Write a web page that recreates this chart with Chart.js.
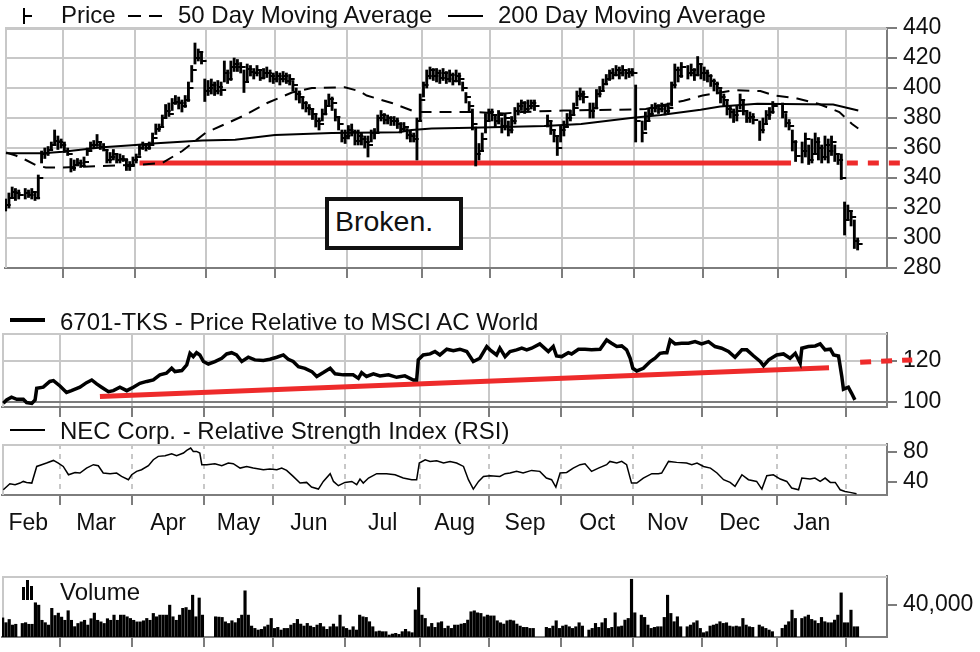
<!DOCTYPE html>
<html>
<head>
<meta charset="utf-8">
<title>NEC Corp. 6701-TKS</title>
<script src="https://cdn.jsdelivr.net/npm/chart.js@4.4.1/dist/chart.umd.min.js"></script>
<style>
  html, body { margin:0; padding:0; background:#fff; }
  #wrap { position:relative; width:980px; height:652px; overflow:hidden; font-family:'Liberation Sans', Arial, sans-serif; color:#111; }
  #wrap canvas { position:absolute; left:0; }
  .lg { position:absolute; font-size:24px; line-height:24px; white-space:nowrap; }
  .ic { position:absolute; background:#000; }
  #box { position:absolute; left:325px; top:196.5px; width:138px; height:53px; box-sizing:border-box; border:4px solid #111; background:#fff; }
  #boxText { position:absolute; left:335px; top:207px; font-size:28.5px; line-height:28.5px; white-space:nowrap; }
</style>
</head>
<body>
<div id="wrap">
  <canvas id="cPrice" width="980" height="290" style="top:0px"></canvas>
  <canvas id="cRel" width="980" height="140" style="top:300px"></canvas>
  <canvas id="cRsi" width="980" height="135" style="top:415px"></canvas>
  <canvas id="cVol" width="980" height="124" style="top:548px"></canvas>

  <div class="ic" style="left:23px;top:8px;width:2px;height:16px"></div>
  <div class="ic" style="left:23px;top:15px;width:9px;height:2px"></div>
  <div class="lg" style="left:61px;top:3px">Price</div>
  <div class="ic" style="left:128px;top:15px;width:13px;height:2px"></div>
  <div class="ic" style="left:149px;top:15px;width:13px;height:2px"></div>
  <div class="lg" style="left:178px;top:3px">50 Day Moving Average</div>
  <div class="ic" style="left:448px;top:15px;width:35px;height:2px"></div>
  <div class="lg" style="left:498px;top:3px">200 Day Moving Average</div>

  <div class="ic" style="left:10px;top:318px;width:35px;height:4px"></div>
  <div class="lg" style="left:60px;top:310px">6701-TKS - Price Relative to MSCI AC World</div>

  <div class="ic" style="left:10px;top:429px;width:35px;height:1.5px"></div>
  <div class="lg" style="left:60px;top:419px">NEC Corp. - Relative Strength Index (RSI)</div>

  <div class="ic" style="left:22px;top:587px;width:3px;height:13px"></div>
  <div class="ic" style="left:26px;top:580px;width:3px;height:20px"></div>
  <div class="ic" style="left:30px;top:586px;width:3px;height:14px"></div>
  <div class="lg" style="left:60px;top:580px">Volume</div>

  <div id="box"></div>
  <div id="boxText">Broken.</div>
</div>
<script>
// ---------------- DATA ----------------
// x values are weekday slots (slot 0 = first weekday of February)
const startSlot = 2;
const closes = [
 322,327,331,330,329,null,330,329,331,327,
 340,356,357,359,362,365,364,362,358,356,
 347,349,350,348,351,358,362,362,364,361,
 359,352,354,356,352,353,352,348,348,352,
 354,360,362,360,362,367,373,374,380,385,
 383,390,391,390,388,392,400,412,420,424,
 418,398,400,402,398,401,399,410,406,414,
 416,414,414,404,413,411,410,412,407,410,
 410,408,406,408,406,408,405,406,402,396,
 394,390,387,386,383,378,376,383,388,393,
 390,381,376,367,368,372,371,365,368,366,
 364,362,370,370,380,382,379,380,378,378,
 376,373,374,369,368,366,378,392,402,408,
 412,408,410,407,410,406,409,405,408,406,
 400,394,388,376,356,358,366,378,384,382,
 378,382,375,380,372,378,385,388,390,386,
 388,390,388,null,null,null,378,372,368,360,
 372,374,380,382,387,395,396,394,null,385,
 387,396,398,403,406,410,409,412,410,412,
 410,411,410,378,null,370,378,383,387,388,
 386,388,385,387,402,412,408,414,null,410,
 412,409,416,410,410,408,405,403,400,394,
 392,386,384,382,385,392,385,380,381,379,
 null,372,376,382,384,388,null,null,384,377,
 375,364,355,null,358,366,352,356,364,360,
 354,362,358,364,356,352,340,312,318,314,
 298,296
];
const highs = [
 326,330,334,333,332,null,333,332,333,331,
 342,358,360,361,364,372,368,366,364,360,
 353,352,353,352,354,360,364,365,369,364,
 363,358,357,359,356,356,355,353,351,354,
 356,362,364,363,364,370,376,376,382,389,
 390,393,395,394,392,395,404,415,430,426,
 424,406,405,406,404,405,404,418,412,418,
 420,419,417,412,416,415,413,415,412,413,
 414,412,410,411,410,411,410,409,405,400,
 398,394,391,389,386,382,380,386,392,396,
 394,386,380,372,372,375,376,372,372,370,
 368,368,372,373,382,385,383,382,381,381,
 380,377,377,373,372,370,380,396,404,412,
 414,413,413,412,413,411,412,410,412,410,
 404,397,391,386,374,363,370,383,386,386,
 382,385,380,383,378,381,387,390,392,391,
 392,392,392,null,null,null,382,378,372,368,
 375,378,383,385,390,398,400,398,null,390,
 390,399,401,406,409,412,413,415,414,415,
 412,413,413,402,null,378,384,386,389,390,
 389,390,389,390,404,416,414,417,null,415,
 416,413,421,416,414,412,409,406,404,399,
 396,392,388,386,388,396,392,384,384,383,
 null,378,380,385,387,391,null,null,390,383,
 379,372,365,null,364,370,362,366,370,367,
 362,368,366,368,362,356,356,324,322,318,
 312,300
];
const lows = [
 318,320,327,325,326,null,326,327,326,325,
 326,350,353,355,359,362,359,360,357,355,
 344,345,348,347,348,355,359,360,361,359,
 358,350,350,352,350,350,351,345,345,348,
 350,355,359,358,359,363,369,371,374,380,
 381,385,389,386,384,387,391,404,416,418,
 416,391,395,396,395,396,395,404,403,405,
 411,411,410,397,404,408,406,408,405,406,
 407,404,403,404,402,404,403,402,398,392,
 390,386,384,382,379,374,372,378,382,388,
 385,378,372,364,363,366,368,362,362,362,
 360,354,364,366,370,378,376,376,375,375,
 373,370,371,366,364,364,352,378,394,400,
 406,405,404,403,405,403,404,402,404,402,
 398,390,384,372,348,352,358,370,378,378,
 374,376,370,372,368,370,376,382,385,383,
 384,386,385,null,null,null,374,369,364,355,
 364,368,374,378,382,388,392,390,null,380,
 380,386,394,398,402,405,406,408,406,408,
 406,407,408,364,null,364,372,378,382,384,
 383,384,382,383,388,400,404,407,null,406,
 408,405,408,406,405,404,401,398,396,390,
 388,382,380,377,378,386,382,377,377,376,
 null,365,370,376,379,383,null,null,380,374,
 372,358,351,null,350,354,349,350,356,352,
 350,352,350,355,351,349,339,302,312,308,
 293,292
];
const volumes = [
 24000,18000,22000,15000,16000,null,17000,18000,16000,16000,
 43000,40000,21000,18000,15000,36000,27000,30000,25000,21000,
 33000,21000,13000,17000,19000,21000,15000,23000,30000,21000,
 19000,17000,23000,21000,27500,21000,27500,27500,25400,23300,
 21000,19000,19000,20400,23300,21000,29600,25400,27500,27500,
 27500,40000,25400,21000,27500,36000,37000,33750,52500,25400,
 49000,27500,null,null,null,25400,25000,24600,19000,17000,
 20400,18000,23300,27500,58000,27500,13750,10800,8750,9600,
 12900,15000,23300,10800,12100,8750,10800,10800,15000,17100,
 22100,16250,13750,17100,13750,12100,15000,17100,12900,9600,
 12900,16250,12900,27500,12900,10800,8750,12900,8750,27500,
 25400,24600,19200,12900,6700,7500,6700,6700,2500,3750,
 4600,3300,6700,9600,6700,5400,34000,62000,27500,23300,
 12900,17100,12100,17900,19200,10800,13750,10800,15000,15000,
 16250,17100,21250,31700,32900,30400,29600,25400,27500,26500,
 26500,20400,17900,16250,20400,21250,20400,16250,13750,12100,
 12100,10800,10800,null,null,null,12100,10800,13750,20400,
 10800,13750,15000,12900,10800,12900,17900,13750,null,8750,
 10800,17100,12100,17900,23300,10800,12100,30400,12900,13750,
 21250,23300,72500,30400,null,27500,24600,15000,10800,12100,
 12900,12900,24600,52500,29600,19200,25400,12900,null,12900,
 15000,17900,20400,10800,5400,6700,13750,15000,16250,19200,
 17100,17900,13750,12900,13750,12900,23300,15000,12900,12100,
 null,15000,12900,10800,8750,6700,null,null,10800,15000,
 19200,33750,23300,null,23300,25400,27500,22100,20400,17100,
 24600,19200,17900,17900,21250,27500,55400,17900,17900,33750,
 12900,12900
];
const ma50X = [2.1,5.1,8.2,11.3,14.3,19.5,25.6,31.7,37.8,43.9,50,56.1,63.2,69.3,75.4,82.1,89.7,95.8,105.9,110.2,112.6,120.3,126.4,128.8,144.7,154.8,160,172.8,189.9,198.1,209.7,215.5,225,233.2,237.5,244.5,250.9,257.4,261.3,263.2];
const ma50Y = [357,355,352,348.5,347,347,347.5,348,348.5,349,350,358,370,376,382,390,397,400,400.5,398,395,390,385,384,384,383,384,385,385.5,386,391.5,395,398.5,398,395,393,389.5,384,376,373];
const ma200X = [2.1,13.4,19.5,31.7,41.8,47,62.2,72.3,84.5,101.9,122.4,126.4,132.5,144.7,167,178.3,193.5,202.7,214.9,220.9,232.3,255.5,263.2];
const ma200Y = [356.5,356.5,357.5,360.5,362,363,365,365.5,368.7,370,370.5,372,373,373.5,374.7,376,380,382,385.5,387.6,389.5,389,385];
const supportX = [43, 242.6], supportY = [350, 350];
const supportDashX = [259.7, 276.3], supportDashY = [350, 350];
const relX = [2.2,3.2,4.7,6.3,8.3,9.3,10.9,11.9,12.4,14.4,16.4,17.5,19.5,21.5,23,25.6,27.6,29.2,30.7,32.2,34.3,35.8,37.8,39.9,41.9,43.9,46,48,50,52,53.6,54.6,56.7,58.2,59.2,60.2,61.2,62.2,63.3,64.8,66.8,68.9,70.4,71.9,73.4,75,77,79,81.6,83.6,85.7,87.7,89.2,90.7,92.3,94.3,96.4,97.9,99.9,102,103.5,106,109,110.6,111.6,113.1,115.2,117.2,119.8,122.3,124.8,127.4,128.4,128.9,130.4,132.5,134,135.5,137.6,139.6,141.6,143.7,145.7,147.7,149.8,150.8,152.8,153.8,155.4,156.9,158.9,160.5,162,163.5,166,168.6,170.1,171.1,172.7,174.7,175.7,177.8,179.8,181.8,184.4,186.4,187.9,189.5,191,192.5,193.6,194.4,195.6,197.6,199.7,201.2,202.7,203.8,204.8,205.8,207.3,209.3,211.4,213.4,215.4,217.5,219.5,221.5,223.6,225.6,227.7,229.2,231.3,233.3,234.3,235.9,238.3,240.4,242.4,244,245.5,246,248,250.1,251.6,253.1,254.7,255.7,257.2,258.2,258.7,260.2,261.2,262.2];
const relY = [99.4,101,102.3,101.3,101.3,99.7,99.3,101,106.7,107.2,110,110.4,107.8,104.6,105.5,107.2,109.4,110.7,108.8,107.2,105,105.5,107.2,105.5,107.2,109.1,110,110.7,113.2,114,116.4,114.8,115.3,118,123.7,122.1,124,122.9,119.7,118.5,119.7,121.3,123.4,124,122.9,119.7,121.8,120.5,120.2,120.8,121.8,122.9,120.8,119.7,117.2,116.4,114.8,112.4,114.3,116.4,113.7,113.2,113.2,111.5,114.3,112.4,113.7,112.7,113.2,112,112.7,110.7,110.7,120.5,122.9,123.4,124.6,122.9,125.7,125,125.7,124.6,119.7,121.3,127,125.4,122.9,126.2,122.1,124.6,125.4,126.2,125.4,126.2,128.3,124.6,127,122.4,122.1,124,123.4,125.7,125.7,125.4,125.7,130.2,128.6,127,127.3,125.4,121.3,116.4,115.1,116.4,119.7,121.3,123.7,124,124,130.2,128.3,128.6,128.6,129.4,128.3,129.4,127,126.2,124.6,121.8,125.4,125.4,122.4,119.7,117.6,120.5,122.9,123.4,121.3,123.7,118.9,126.2,127,127.3,128.3,125.4,125.7,122.9,122.4,112.4,106.2,107.2,104.2,101];
const relTrendX = [31.7, 254.3], relTrendY = [102.6, 116.7];
const relDashX = [263.8, 279.7], relDashY = [119.3, 120.5];
const rsiX = [2.2,4.2,5.8,7.3,8.3,9.3,10.9,12.4,13.9,15.4,17.5,19,20.5,22.1,24.1,25.6,27.6,29.7,31.2,32.7,34.8,36.8,38.3,40.4,41.4,42.9,44.4,46.5,48,49.5,51.6,53.6,55.1,57.2,58.2,59.4,60.2,61.2,62.2,62.8,64.3,66.8,68.9,70.9,72.4,74.5,76.5,78.5,81.6,83.6,85.7,87.2,88.7,90.7,92.8,94.8,96.3,98.4,99.9,102,103,104.5,106.5,108.6,110.1,111.1,112.1,113.7,116.2,119.2,121.8,124.3,126.9,128.4,129.2,131,132.5,134.5,136.6,138.6,140.6,142.7,144.2,145.7,147.3,148.8,150.8,153.8,155.4,156.9,158.9,160.9,163.5,166,168,169.6,170.9,172.2,174.2,176.2,178.3,179.8,181.8,183.9,186.4,187.4,189.5,191,192.5,194,195.6,197.6,200.2,202.2,203.2,205.3,207.8,210.8,212.4,214,216,218.1,220.1,222.1,224.1,225.6,227.7,229.7,232.2,233.8,235.3,237.3,239.4,241.4,242.9,245,246,248.5,250,251.6,253.1,254.7,256.2,257.7,259.2,260.7,262.7];
const rsiY = [29.3,37.3,36,38.2,40.4,39.1,38.2,60.4,62.7,64.9,68.4,64.9,60.4,49.3,52.4,51.6,58.2,62.7,61.3,51.6,50.7,51.6,47.1,42.7,49.3,53.8,56,61.3,69.3,73.8,74.7,77.3,74.7,78.2,81.8,84.9,80.4,80.4,78.2,62.7,62.7,64,61.3,64.9,64,58.2,60.4,58.2,56,56.9,56,58.2,55.1,47.1,38.2,39.1,32.9,30.2,40.4,50.7,40.4,34.7,39.1,40.4,36,43.6,38.2,44.9,50.7,50.7,49.3,44.9,42.7,42.7,64.9,69.3,67.1,68,64.9,67.1,64.9,60.4,42.7,30.2,40.4,47.1,48,47.1,50.7,51.6,53.8,51.6,55.1,53.8,44.9,42.7,32.9,51.6,52.4,58.2,62.7,64,53.8,58.2,62.7,67.1,64.9,67.1,62.7,38.2,38.2,44.9,50.7,50.7,51.6,67.1,65.8,64.9,62.7,64.9,60.4,58.2,51.6,42.7,39.1,33.8,49.3,42.7,40.4,30.2,48,49.3,43.6,40.4,31.6,29.3,44.9,43.6,44.9,40.4,44.9,39.1,39.1,29.3,27.1,25.8,24];
const monthTicks = [19.5,41.5,63.5,84.5,106.5,129.5,150.5,172.5,194.5,215.5,238.5,259.5];
const monthLabelPos = [9.8,30.5,52.5,74,95.5,118,140,161.5,183.5,205,227,249];
const monthLabels = ['Feb','Mar','Apr','May','Jun','Jul','Aug','Sep','Oct','Nov','Dec','Jan'];
const priceTicks = [280,300,320,340,360,380,400,420,440];
const priceTickLabels = ['280','300','320','340','360','380','400','420','440'];
const relTicks = [100,120], relTickLabels = ['100','120'];
const rsiTicks = [40,80], rsiTickLabels = ['40','80'];
const volTicks = [40000], volTickLabels = ['40,000'];

// ---------------- BUILD ----------------
const hlcBars = [], closeMarks = [], volBars = [];
closes.forEach((c, i) => {
  const s = startSlot + i;
  if (c !== null) { hlcBars.push({x: s, y: [lows[i], highs[i]]}); closeMarks.push({x: s, y: c}); }
});
volumes.forEach((v, i) => { if (v !== null) volBars.push({x: startSlot + i, y: v}); });
const pts = (xs, ys) => xs.map((x, i) => ({x: x, y: ys[i]}));

Chart.defaults.font.family = "'Liberation Sans', Arial, sans-serif";
Chart.defaults.font.size = 23;
Chart.defaults.color = '#111';

const GRID = '#c8c8c8', AXIS = '#7d7d7d';
const X_MIN = 1.8, X_MAX = 272;

const tickImg = (() => {
  const c = document.createElement('canvas'); c.width = 12; c.height = 2;
  const g = c.getContext('2d'); g.fillStyle = '#000'; g.fillRect(6, 0, 5, 2); return c;
})();

const frame = {
  id: 'frame',
  beforeDatasetsDraw(chart) {
    const {ctx, chartArea: a} = chart;
    ctx.save(); ctx.strokeStyle = GRID; ctx.lineWidth = 2;
    ctx.beginPath(); ctx.moveTo(a.left + 1, a.bottom); ctx.lineTo(a.left + 1, a.top + 1); ctx.lineTo(a.right, a.top + 1); ctx.stroke();
    ctx.restore();
  }
};

function xAxis(onArea, dashed) {
  const border = {display: true, color: AXIS, width: 2};
  if (dashed) border.dash = [5, 5];
  return {
    type: 'linear', position: 'bottom', min: X_MIN, max: X_MAX, offset: false, weight: 0,
    afterBuildTicks: ax => { ax.ticks = monthTicks.map(v => ({value: v})); },
    afterFit: ax => { ax.height = 10; },
    ticks: {display: false, autoSkip: false},
    grid: {offset: false, color: GRID, lineWidth: 2, drawOnChartArea: onArea, drawTicks: true, tickLength: 10, tickColor: AXIS, tickWidth: 2},
    border: border
  };
}
function yAxis(min, max, ticks, labels, onArea, colorFn) {
  return {
    type: 'linear', position: 'right', min: min, max: max,
    afterBuildTicks: ax => { ax.ticks = ticks.map(v => ({value: v})); },
    afterFit: ax => { ax.width = 93; },
    ticks: {autoSkip: false, padding: 6, color: '#111', callback: (v, i) => labels[i]},
    grid: {color: colorFn || GRID, lineWidth: 2, drawOnChartArea: onArea, drawTicks: true, tickLength: 10, tickColor: AXIS, tickWidth: 2},
    border: {display: true, color: AXIS, width: 2}
  };
}
const common = (padding) => ({
  responsive: false, animation: false, events: [],
  layout: {padding: padding},
  plugins: {legend: {display: false}, tooltip: {enabled: false}}
});

// Price panel
new Chart(document.getElementById('cPrice'), {
  type: 'bar',
  data: {datasets: [
    {type: 'bar', data: hlcBars, backgroundColor: '#000', borderWidth: 0, barThickness: 2.2},
    {type: 'scatter', data: closeMarks, pointStyle: tickImg, pointRadius: 1, showLine: false},
    {type: 'line', data: pts(ma50X, ma50Y), borderColor: '#000', borderWidth: 2, borderDash: [12, 8], pointRadius: 0, tension: 0},
    {type: 'line', data: pts(ma200X, ma200Y), borderColor: '#000', borderWidth: 2, pointRadius: 0, tension: 0},
    {type: 'line', data: pts(supportX, supportY), borderColor: '#ee2b2b', borderWidth: 5, pointRadius: 0},
    {type: 'line', data: pts(supportDashX, supportDashY), borderColor: '#ee2b2b', borderWidth: 5, borderDash: [11, 10], pointRadius: 0, clip: {left: 0, top: 0, right: 20, bottom: 0}}
  ]},
  options: Object.assign(common({top: 28, left: 2, right: 0, bottom: 12}), {
    scales: {x: xAxis(true, false), y: yAxis(280, 440, priceTicks, priceTickLabels, true)}
  }),
  plugins: [frame]
});

// Relative panel
new Chart(document.getElementById('cRel'), {
  type: 'line',
  data: {datasets: [
    {data: pts(relX, relY), borderColor: '#000', borderWidth: 3.5, pointRadius: 0, tension: 0},
    {data: pts(relTrendX, relTrendY), borderColor: '#ee2b2b', borderWidth: 5, pointRadius: 0},
    {data: pts(relDashX, relDashY), borderColor: '#ee2b2b', borderWidth: 5, borderDash: [11, 10], pointRadius: 0, clip: {left: 0, top: 0, right: 30, bottom: 0}}
  ]},
  options: Object.assign(common({top: 33, left: 2, right: 0, bottom: 23}), {
    scales: {x: xAxis(true, false), y: yAxis(97.54, 133.6, relTicks, relTickLabels, true, ctx => (ctx.tick && ctx.tick.value === 100) ? AXIS : GRID)}
  }),
  plugins: [frame]
});

// RSI panel + month labels
const x2 = {
  type: 'linear', position: 'bottom', min: X_MIN, max: X_MAX, offset: false, weight: 1,
  afterBuildTicks: ax => { ax.ticks = monthLabelPos.map(v => ({value: v})); },
  afterFit: ax => { ax.height = 40; },
  ticks: {autoSkip: false, maxRotation: 0, minRotation: 0, padding: 5, color: '#111', callback: (v, i) => monthLabels[i]},
  grid: {display: false, drawTicks: false},
  border: {display: false}
};
new Chart(document.getElementById('cRsi'), {
  type: 'line',
  data: {datasets: [
    {data: pts(rsiX, rsiY), borderColor: '#000', borderWidth: 1.5, pointRadius: 0, tension: 0}
  ]},
  options: Object.assign(common({top: 29, left: 2, right: 0, bottom: 5}), {
    scales: {x: xAxis(true, true), x2: x2, y: yAxis(22.3, 90.3, rsiTicks, rsiTickLabels, false)}
  }),
  plugins: [frame]
});

// Volume panel
new Chart(document.getElementById('cVol'), {
  type: 'bar',
  data: {datasets: [
    {data: volBars, backgroundColor: '#000', borderWidth: 0, barThickness: 2.5}
  ]},
  options: Object.assign(common({top: 28, left: 2, right: 0, bottom: 25}), {
    scales: {x: xAxis(false, false), y: yAxis(0, 76600, volTicks, volTickLabels, false)}
  }),
  plugins: [frame]
});
</script>
</body>
</html>
